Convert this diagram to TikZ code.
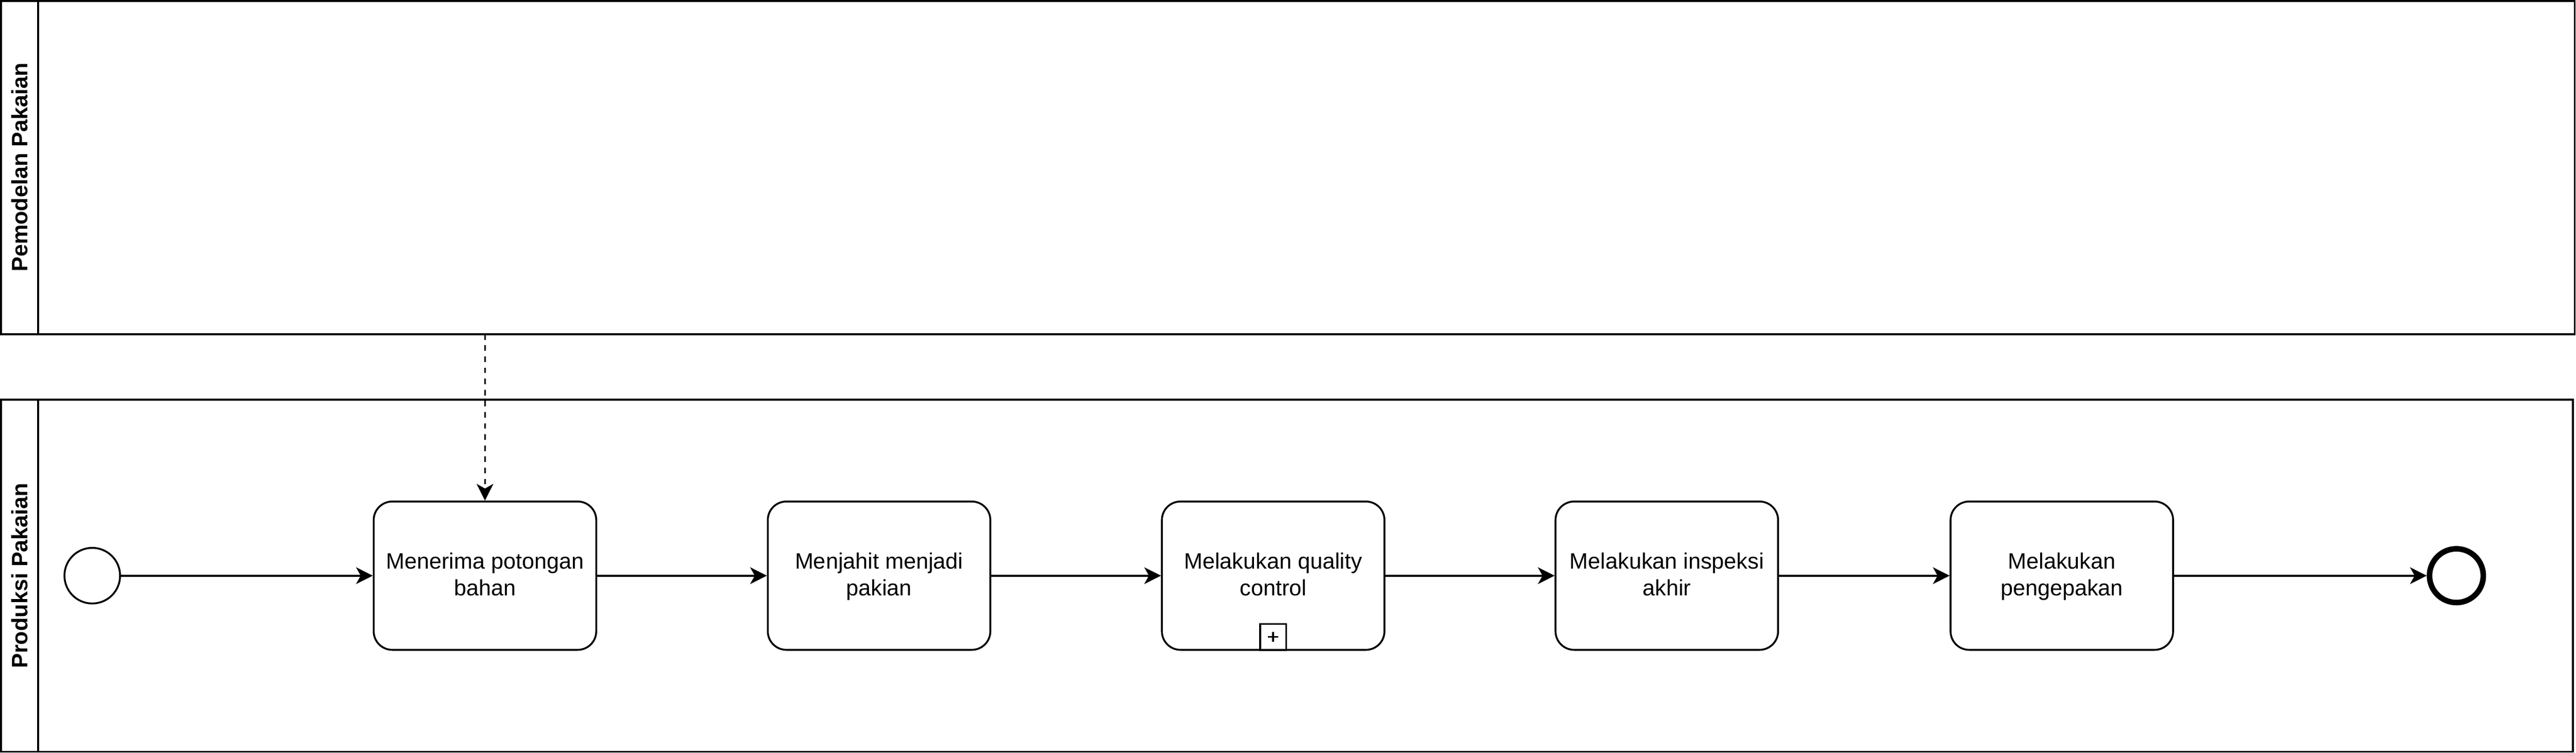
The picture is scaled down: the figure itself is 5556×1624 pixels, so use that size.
\documentclass[tikz,border=0pt]{standalone}
\usepackage{fontspec}
\setmainfont{Liberation Sans}
\usetikzlibrary{arrows.meta,positioning}
\begin{document}
\begin{tikzpicture}[x=0.25pt,y=-0.25pt,
  every node/.style={font=\fontsize{12pt}{14.4pt}\selectfont},
  pool/.style={draw,line width=1pt,fill=white},
  lanetitle/.style={rotate=90,font=\fontsize{12pt}{14.4pt}\selectfont\bfseries},
  task/.style={draw,line width=1pt,rounded corners=10pt,minimum width=120pt,minimum height=80pt,inner sep=0pt,align=center,fill=white},
  tasklabel/.style={align=center,inner sep=0pt,yshift=-0.75pt},
  startev/.style={draw,circle,line width=1pt,minimum size=30pt,inner sep=0pt,fill=white},
  endev/.style={draw,circle,line width=3pt,minimum size=29pt,inner sep=0pt,fill=white},
  flow/.style={line width=1pt,-{Stealth[length=9pt,width=9pt,inset=2.5pt]}},
  msgflow/.style={line width=1pt,dash pattern=on 3pt off 3pt,-{Stealth[length=9pt,width=9pt,inset=2.5pt]}},
  marker/.style={draw,line width=1pt,minimum size=14pt,inner sep=0pt,fill=white}
]
\useasboundingbox (0,0) rectangle (5556,1624);
% pools
\draw[pool] (2,2) rectangle (5553,721);
\draw[line width=1pt] (82,2) -- (82,721);
\node[lanetitle] (laneA) at (42,361) {Pemodelan Pakaian};
\draw[pool] (2,862) rectangle (5549,1622);
\draw[line width=1pt] (82,862) -- (82,1622);
\node[lanetitle] (laneB) at (42,1242) {Produksi Pakaian};
% events and tasks
\node[startev] (start) at (199,1242) {};
\node[task] (t1) at (1046,1242) {};
\node[task] (t2) at (1896,1242) {};
\node[task] (t3) at (2746,1242) {};
\node[task] (t4) at (3595,1242) {};
\node[task] (t5) at (4447,1242) {};
\node[tasklabel] (l1) at (t1.center) {\strut Menerima potongan\\bahan\strut};
\node[tasklabel] (l2) at (t2.center) {\strut Menjahit menjadi\\pakian\strut};
\node[tasklabel] (l3) at (t3.center) {\strut Melakukan quality\\control\strut};
\node[tasklabel] (l4) at (t4.center) {\strut Melakukan inspeksi\\akhir\strut};
\node[tasklabel] (l5) at (t5.center) {\strut Melakukan\\pengepakan\strut};
\node[endev] (end) at (5298,1242) {};
% subprocess marker
\node[marker,anchor=south] (plus) at (t3.south) {};
\draw[line width=1pt] (plus.center) ++(-2.75pt,0) -- ++(5.5pt,0);
\draw[line width=1pt] (plus.center) ++(0,-2.75pt) -- ++(0,5.5pt);
% flows
\draw[flow] (start) -- (t1);
\draw[flow] (t1) -- (t2);
\draw[flow] (t2) -- (t3);
\draw[flow] (t3) -- (t4);
\draw[flow] (t4) -- (t5);
\draw[flow] (t5) -- (end);
\coordinate (msgsrc) at (1046,721);
\draw[msgflow] (msgsrc) -- (t1);
\end{tikzpicture}
\end{document}
